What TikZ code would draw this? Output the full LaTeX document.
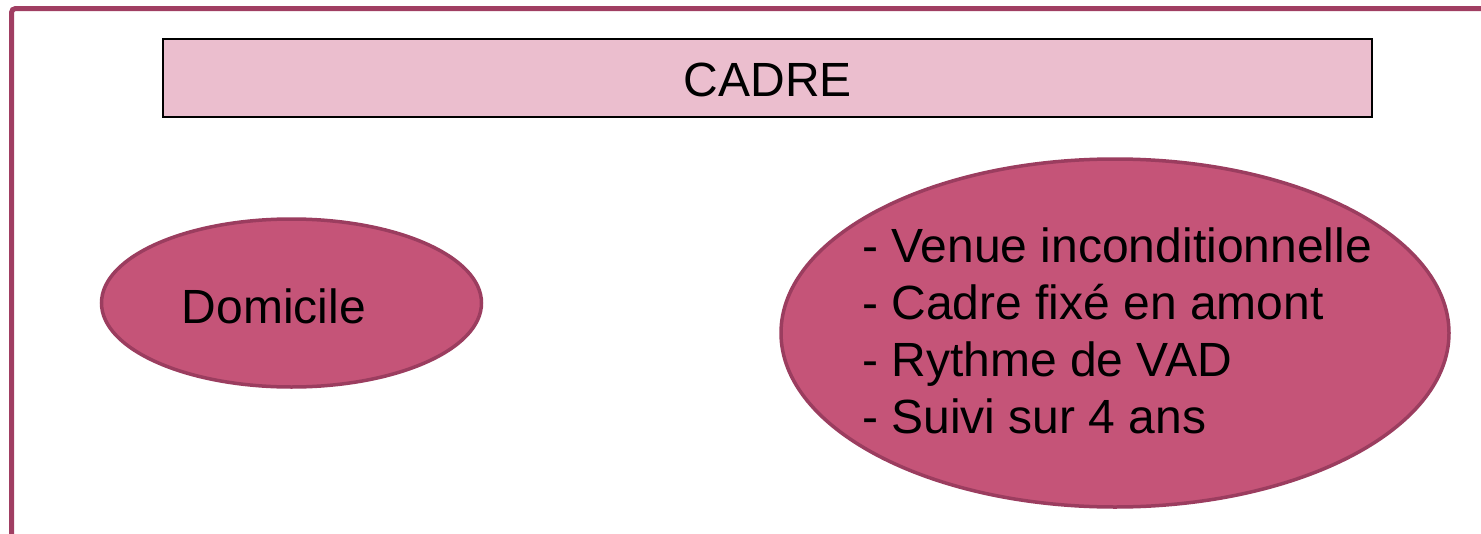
\documentclass[tikz,border=0pt]{standalone}
\usepackage{fontspec}
\setmainfont{Liberation Sans}
\usetikzlibrary{shapes.geometric}
\definecolor{framec}{HTML}{A03E62}
\definecolor{ellfill}{HTML}{C55478}
\definecolor{elldraw}{HTML}{9B3D5F}
\definecolor{titlefill}{HTML}{EBBECE}
\tikzset{
  bigtext/.style={font=\fontsize{48}{57}\selectfont, inner sep=0pt, text=black},
  pinkell/.style={ellipse, draw=elldraw, line width=3.5pt, fill=ellfill, inner sep=0pt},
  titlebox/.style={rectangle, draw=black, line width=2pt, fill=titlefill, inner sep=0pt},
}
\begin{document}
\begin{tikzpicture}[x=1pt,y=-1pt]
\useasboundingbox (0,0) rectangle (1481,533);
% outer frame
\draw[framec, line width=5pt, rounded corners=4pt] (11.5,540) -- (11.5,8.5) -- (1490,8.5);
% title
\node[titlebox, minimum width=1209pt, minimum height=78pt] (title) at (767.5,78) {};
\node[bigtext] (titletext) at (768,79.5) {CADRE};
% left ellipse
\node[pinkell, minimum width=380pt, minimum height=168pt] (dom) at (291.5,303) {};
\node[bigtext] (domtext) at (274,306) {Domicile};
% right ellipse
\node[pinkell, minimum width=668pt, minimum height=348pt] (cad) at (1115,333) {};
\node[bigtext, align=left, anchor=north west] (cadtext) at (862,227.5) {- Venue inconditionnelle\\- Cadre fixé en amont\\- Rythme de VAD\\- Suivi sur 4 ans};
\end{tikzpicture}
\end{document}
